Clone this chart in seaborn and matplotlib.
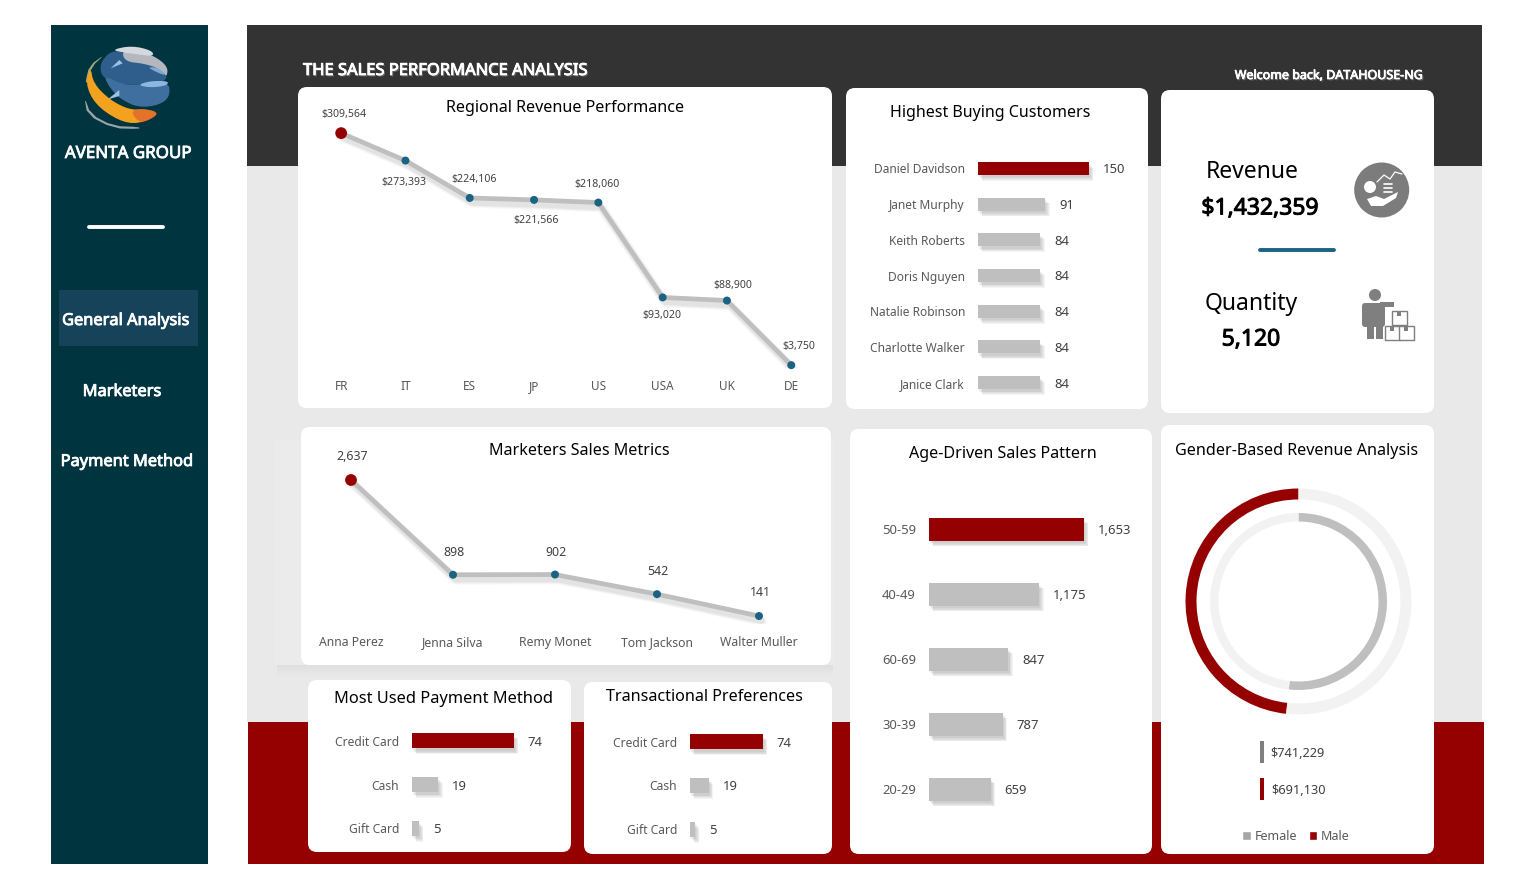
import matplotlib
matplotlib.use("Agg")
import matplotlib.pyplot as plt
import matplotlib.patheffects as pe
from matplotlib.patches import FancyBboxPatch, Rectangle, Circle, Polygon, Patch
import numpy as np
import seaborn as sns

# ---------- data ----------
region_names = ["FR", "IT", "ES", "JP", "US", "USA", "UK", "DE"]
region_revenue = [309564, 273393, 224106, 221566, 218060, 93020, 88900, 3750]
marketer_names = ["Anna Perez", "Jenna Silva", "Remy Monet", "Tom Jackson", "Walter Muller"]
marketer_sales = [2637, 898, 902, 542, 141]
customer_names = ["Daniel Davidson", "Janet Murphy", "Keith Roberts", "Doris Nguyen",
                  "Natalie Robinson", "Charlotte Walker", "Janice Clark"]
customer_qty = [150, 91, 84, 84, 84, 84, 84]
age_groups = ["50-59", "40-49", "60-69", "30-39", "20-29"]
age_sales = [1653, 1175, 847, 787, 659]
pay_methods = ["Credit Card", "Cash", "Gift Card"]
pay_counts = [74, 19, 5]
genders = ["Female", "Male"]
gender_revenue = [741229, 691130]
total_revenue = "$1,432,359"
total_quantity = "5,120"

# ---------- style ----------
W, H = 1540, 885
RED, GREY, BLUE = "#950000", "#BFBFBF", "#1B6283"
TXT = "#404040"
TICK = "#595959"
FONT = "Noto Sans"
sns.set_theme(style="white")
plt.rcParams["font.family"] = [FONT, "DejaVu Sans"]
fig = plt.figure(figsize=(W / 100, H / 100), dpi=100, facecolor="white")

bg = fig.add_axes([0, 0, 1, 1])
bg.set_xlim(0, W); bg.set_ylim(H, 0); bg.axis("off")


def rect(x0, y0, x1, y1, c, z=1):
    bg.add_patch(Rectangle((x0, y0), x1 - x0, y1 - y0, fc=c, ec="none", zorder=z))


def card(x0, y0, x1, y1, r=9):
    bg.add_patch(FancyBboxPatch((x0 + r, y0 + r), x1 - x0 - 2 * r, y1 - y0 - 2 * r,
                                boxstyle=f"round,pad={r},rounding_size={r}",
                                fc="white", ec="none", zorder=3))


def label(x, y, s, size, c="black", bold=0, ha="center", glow=False):
    t = bg.text(x, y, s, fontsize=size, color=c, ha=ha, va="center_baseline", zorder=6)
    eff = []
    if glow:
        eff.append(pe.withSimplePatchShadow(offset=(1, -1), shadow_rgbFace="#888888", alpha=.6))
    if bold:
        eff.append(pe.withStroke(linewidth=bold, foreground=c))
    if eff:
        t.set_path_effects(eff)
    return t


def smooth(pts, n=2):
    p = np.array(pts, float)
    for _ in range(n):
        q = np.roll(p, -1, axis=0)
        p = np.column_stack([0.75 * p + 0.25 * q, 0.25 * p + 0.75 * q]).reshape(-1, 2)
    return p


def place(x0, y0, x1, y1):
    ax = fig.add_axes([x0 / W, 1 - y1 / H, (x1 - x0) / W, (y1 - y0) / H])
    ax.patch.set_alpha(0)
    return ax


def clean(ax):
    sns.despine(ax=ax, left=True, bottom=True)
    ax.set_xlabel(""); ax.set_ylabel("")


def soft_shadow(dx, dy, lay=5, a=.05, spread=1.2):
    out = []
    for k in np.linspace(-1, 1, lay):
        out.append(pe.SimplePatchShadow(offset=(dx + k * spread, dy - k * spread), alpha=a, shadow_rgbFace="#333333"))
    out.append(pe.Normal())
    return out


def soft_line(dx, dy):
    out = []
    for lw_, a in [(7, .035), (5.5, .045), (4, .06)]:
        out.append(pe.SimpleLineShadow(offset=(dx, dy), alpha=a, shadow_color="#333333", linewidth=lw_))
    out.append(pe.Normal())
    return out


# ---------- background ----------
rect(51, 25, 208, 864, "#00343F")
rect(59, 290, 198, 346, "#17435A", 2)
rect(247, 25, 1482, 166, "#333333")
rect(247, 166, 1482, 722, "#E9E9E9")
rect(248, 722, 1484, 864, RED)
bg.plot([89, 163], [226.5, 226.5], color="white", lw=2.8, solid_capstyle="round", zorder=4)

rect(275, 440, 835, 665, "#EBEBEB", 2)
for i, col in enumerate(["#DFDFDF", "#E1E1E1", "#E3E3E3", "#E5E5E5", "#E7E7E7", "#E8E8E8"]):
    rect(277, 665 + i * 2, 833, 667 + i * 2, col, 2)
for c in [(298, 87, 832, 408), (846, 88, 1148, 409), (1161, 90, 1434, 413),
          (301, 427, 831, 665), (850, 429, 1152, 854), (1161, 425, 1434, 854),
          (308, 680, 571, 852), (584, 682, 832, 854)]:
    card(*c)

# ---------- logo ----------
def z(pts):
    return [(x / 3 + 50, y / 3 + 25) for x, y in pts]


def shape(pts, c, zo=5, n=2):
    bg.add_patch(Polygon(smooth(z(pts), n), closed=True, fc=c, ec="none", zorder=zo))


shape([(178, 80), (148, 120), (158, 160), (215, 180), (290, 178), (352, 168), (345, 135), (285, 112),
       (228, 104), (218, 78)], "#2F5E8C")
shape([(160, 150), (215, 178), (262, 180), (356, 168), (360, 215), (328, 240), (268, 248), (215, 225),
       (180, 190)], "#3F6F9F")
shape([(262, 180), (300, 168), (356, 168), (350, 182), (300, 188)], "#8DB6E0", 6)
shape([(290, 125), (340, 130), (348, 152), (320, 142)], "#7FA8D4", 6)
shape([(215, 78), (226, 110), (285, 116), (338, 135), (350, 158), (354, 125), (312, 92), (256, 76)], "#B4B8BE", 7)
shape([(186, 74), (245, 62), (305, 76), (312, 94), (262, 88), (215, 82)], "#D5D8DC", 7)
shape([(122, 125), (106, 175), (135, 238), (205, 287), (265, 298), (328, 266), (290, 252),
       (240, 255), (180, 225), (130, 175)], "#F2A21E", 8)
shape([(240, 255), (290, 252), (328, 264), (295, 287), (265, 292)], "#E4732A", 9)
shape([(103, 215), (122, 268), (190, 303), (268, 306), (268, 312), (190, 310), (112, 270)], "#9AA4AA", 6, 1)
shape([(165, 88), (118, 122), (106, 172), (112, 172), (125, 125)], "#A8A87A", 6, 1)
shape([(208, 105), (182, 130), (218, 115)], "#9CC2E6", 7, 0)
shape([(208, 195), (172, 224), (208, 213)], "#9CC2E6", 7, 0)

# ---------- static text ----------
label(128, 152, "AVENTA GROUP", 12.2, "white", .6)
label(126, 319, "General Analysis", 11.8, "white", .6)
label(122, 390, "Marketers", 11.8, "white", .6)
label(127, 460, "Payment Method", 11.8, "white", .6)
label(303, 69, "THE SALES PERFORMANCE ANALYSIS", 11.9, "white", .6, ha="left", glow=True)
label(1423, 74, "Welcome back, DATAHOUSE-NG", 9, "white", .5, ha="right", glow=True)

label(565, 106, "Regional Revenue Performance", 11.6)
label(990, 111, "Highest Buying Customers", 11.5)
label(579, 449, "Marketers Sales Metrics", 11.6)
label(1003, 452, "Age-Driven Sales Pattern", 11.6)
label(1297, 449, "Gender-Based Revenue Analysis", 11.6)
label(444, 697, "Most Used Payment Method", 11.8)
label(704, 695, "Transactional Preferences", 11.6)

label(1252, 169.5, "Revenue", 16.5)
label(1260, 205.5, total_revenue, 16.5, bold=.7)
label(1251, 300.5, "Quantity", 16.5)
label(1251, 336.5, total_quantity, 16.5, bold=.7)
bg.plot([1260, 1334], [250, 250], color=BLUE, lw=2.8, solid_capstyle="round", zorder=5)

# ---------- KPI icons ----------
bg.add_patch(Circle((1381.7, 190), 27.5, fc="#7C7C7C", ec="none", zorder=5))
bg.plot([1377, 1384, 1390, 1395, 1402], [182, 175, 179, 172, 174], color="white", lw=.9, zorder=6)
bg.add_patch(Circle((1370, 187), 6, fc="white", ec="none", zorder=6))
for yy in (184, 188, 192):
    bg.plot([1384, 1392], [yy, yy], color="white", lw=1.2, zorder=6)
bg.add_patch(Polygon([(1367, 199), (1376, 196), (1384, 199), (1398, 192), (1396, 198),
                      (1383, 206), (1371, 206)], fc="white", ec="none", zorder=6))
bg.add_patch(Circle((1375, 295), 6, fc="#7F7F7F", ec="none", zorder=5))
bg.add_patch(FancyBboxPatch((1364, 305), 19, 20, boxstyle="round,pad=2,rounding_size=3", fc="#7F7F7F", ec="none", zorder=5))
rect(1367, 325, 1374, 339, "#7F7F7F", 5); rect(1376, 325, 1383, 339, "#7F7F7F", 5)
rect(1380, 302, 1394, 307, "#7F7F7F", 5)
for bx, by in [(1392, 311), (1385, 326), (1399, 326)]:
    bg.add_patch(Rectangle((bx, by), 14.5, 14, fc="white", ec="#7F7F7F", lw=1, zorder=6))
    rect(bx + 5, by, bx + 9, by + 5, "#7F7F7F", 7)

# ---------- line charts ----------
def line_panel(box, cats, vals, ymax, fmt, offsets, fs, vfs):
    ax = place(*box)
    sns.lineplot(x=cats, y=vals, sort=False, color=GREY, lw=3.4, ax=ax,
                 path_effects=soft_line(2, -3.5))
    flags = ["peak" if v == max(vals) else "rest" for v in vals]
    sns.scatterplot(x=cats, y=vals, hue=flags, size=flags, palette={"peak": RED, "rest": BLUE},
                    sizes={"peak": 72, "rest": 33}, linewidth=0, legend=False, ax=ax, zorder=5,
                    clip_on=False)
    ax.set_xlim(-0.5, len(cats) - 0.5)
    ax.set_ylim(0, ymax)
    ax.set_yticks([])
    ax.tick_params(axis="x", length=0, pad=16.2, labelsize=fs, labelcolor=TICK)
    for lab in ax.get_xticklabels():
        lab.set_va("baseline")
    for i, (v, (dx, dy)) in enumerate(zip(vals, offsets)):
        ax.annotate(fmt(v), (i, v), xytext=(dx * .72, -dy * .72), textcoords="offset points",
                    ha="center", va="center_baseline", fontsize=vfs, color=TXT)
    clean(ax)


line_panel((309, 118, 823.4, 368), region_names, region_revenue, 329500, lambda v: f"${v:,}",
           [(3, -20), (-2, 20), (4, -20), (2, 19), (-1, -20), (-1, 17), (6, -17), (8, -20)], 8.5, 7.6)
line_panel((300, 460, 810, 623.7), marketer_names, marketer_sales, 3004, lambda v: f"{v:,}",
           [(1, -25), (1, -24), (1, -24), (1, -24), (1, -25)], 8.8, 8.9)

# ---------- bar charts ----------
def bar_panel(box, cats, vals, xmax, h, fs, vfs=9.4):
    ax = place(*box)
    n = len(cats)
    row = (box[3] - box[1]) / n
    colors = [RED if v == max(vals) else GREY for v in vals]
    sns.barplot(x=vals, y=cats, hue=cats, palette=colors, orient="h", legend=False,
                width=h / row, saturation=1, linewidth=0, dodge=False, ax=ax)
    ax.set_xlim(0, xmax)
    ax.set_ylim(n - .5, -.5)
    ax.set_xticks([])
    ax.tick_params(axis="y", length=0, pad=9.4, labelsize=fs, labelcolor=TICK)
    for lab in ax.get_yticklabels():
        lab.set_va("center_baseline")
    for cont in ax.containers:
        for t in ax.bar_label(cont, fmt="{:,.0f}", padding=10, fontsize=vfs, color=TXT):
            t.set_va("center_baseline")
        for b in cont:
            b.set_path_effects(soft_shadow(2, -3))
    clean(ax)


bar_panel((978, 150.5, 1140, 400.5), customer_names, customer_qty, 162 / .74, 13, 8.6)
bar_panel((929, 496.5, 1150, 821.5), age_groups, age_sales, 221 / .0938, 23, 9.4)
bar_panel((412, 719, 565, 850), pay_methods, pay_counts, 153 / 1.378, 15, 8.7)
bar_panel((690, 720, 825, 851), pay_methods, pay_counts, 135 / .986, 15, 8.7)

# ---------- donut ----------
dx = place(1298.5 - 120, 601.5 - 120, 1298.5 + 120, 601.5 + 120)
dx.pie([gender_revenue[1], gender_revenue[0]], colors=[RED, "#F2F2F2"], radius=113, startangle=90,
       counterclock=True, wedgeprops=dict(width=11, linewidth=0), frame=True)
dx.pie(gender_revenue, colors=[GREY, "#F2F2F2"], radius=88.5, startangle=90,
       counterclock=False, wedgeprops=dict(width=8.5, linewidth=0), frame=True)
dx.set_xlim(-120, 120); dx.set_ylim(-120, 120); dx.axis("off")

rect(1260, 741, 1264, 763, "#808080", 5)
rect(1260, 778, 1264, 800, RED, 5)
label(1270, 752, f"${gender_revenue[0]:,}", 9.2, TXT, ha="left")
label(1271, 789, f"${gender_revenue[1]:,}", 9.2, TXT, ha="left")
fig.legend(handles=[Patch(fc="#A6A6A6", label=genders[0]), Patch(fc=RED, label=genders[1])],
           loc="center", bbox_to_anchor=(1296 / W, 1 - 836.5 / H), ncol=2, frameon=False,
           fontsize=9, labelcolor="#595959", handlelength=.7, handleheight=.7,
           handletextpad=.3, columnspacing=.9)

fig.savefig("out.png", dpi=100, facecolor="white")
